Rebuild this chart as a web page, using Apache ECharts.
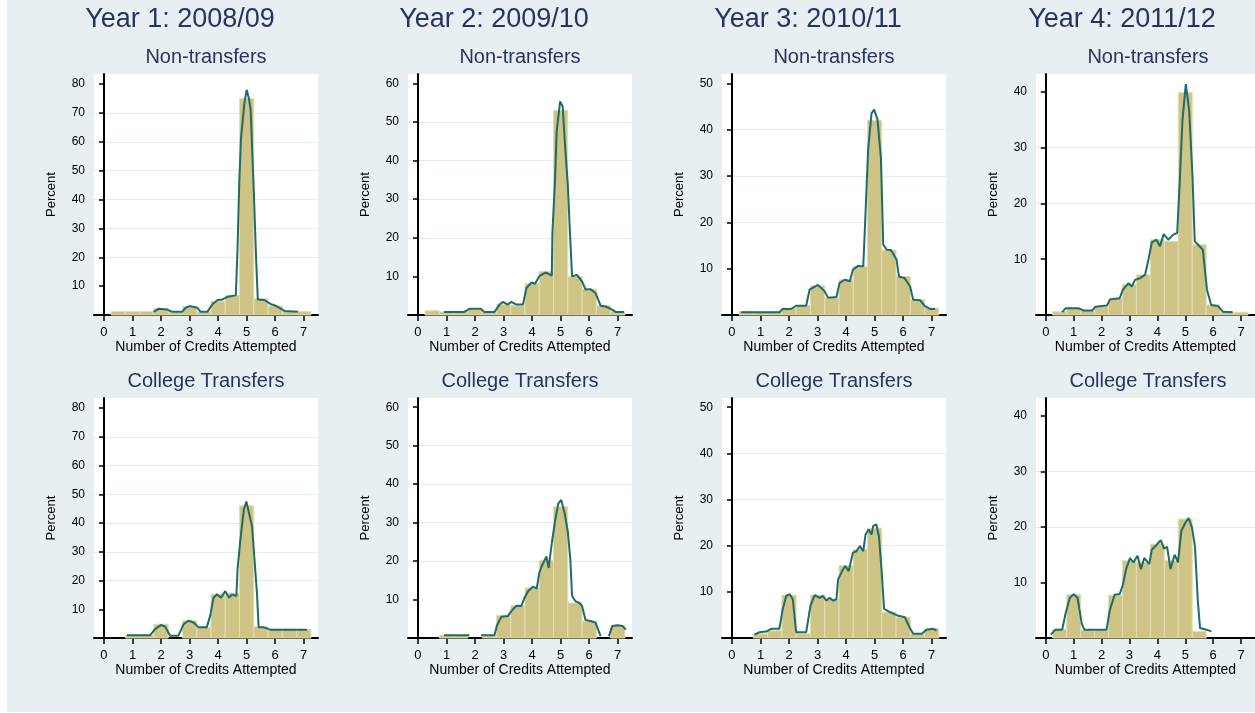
<!DOCTYPE html>
<html>
<head>
<meta charset="utf-8">
<script src="https://cdn.jsdelivr.net/npm/echarts@6/dist/echarts.min.js"></script>
<style>
  html, body { margin: 0; padding: 0; background: #fff; }
  #chart { width: 1255px; height: 713px; }
</style>
</head>
<body>
<div id="chart"></div>
<script>
// bin centres (width 0.5) shared by all panels
var bins = [0.5, 1, 1.5, 2, 2.5, 3, 3.5, 4, 4.5, 5, 5.5, 6, 6.5, 7];
var xTicks = [0, 1, 2, 3, 4, 5, 6, 7];

var yearTitles = ['Year 1: 2008/09', 'Year 2: 2009/10', 'Year 3: 2010/11', 'Year 4: 2011/12'];
var groupTitles = ['Non-transfers', 'College Transfers'];

var yMaxByYear = [83.5, 62.4, 52, 43.2];
var yTicksY1 = [10, 20, 30, 40, 50, 60, 70, 80];
var yTicksY2 = [10, 20, 30, 40, 50, 60];
var yTicksY3 = [10, 20, 30, 40, 50];
var yTicksY4 = [10, 20, 30, 40];

// histogram heights (percent), non-transfers
var barsY1Non = [1.2, 1.2, 1.2, 2.2, 1.0, 2.8, 1.1, 4.8, 6.8, 75, 5.6, 3.1, 1.3, 1.2];
var barsY2Non = [1.1, 0.8, 0.9, 1.4, 0.8, 2.8, 2.4, 8.1, 11.3, 53, 10, 6.7, 2.4, 0.9];
var barsY3Non = [0.8, 0.6, 0.6, 1.5, 2.0, 6.3, 3.7, 7.6, 10.5, 42, 14, 8.3, 3.3, 1.5];
var barsY4Non = [0.6, 1.2, 0.8, 1.5, 3.0, 5.5, 7.2, 13.5, 13.2, 39.9, 12.6, 1.8, 0.5, 0.5];
// college transfers
var barsY1Col = [0, 1.0, 1.0, 4.8, 0, 6.0, 3.7, 15.2, 15.5, 46, 3.9, 3.1, 3.1, 2.9];
var barsY2Col = [0, 0.7, 0.7, 0, 0.5, 5.9, 8.4, 13, 20.2, 34.1, 9.1, 4.4, 0, 3.3];
var barsY3Col = [0, 0.9, 1.6, 9.3, 0.9, 9.3, 8.4, 15.7, 19.2, 23.8, 5.6, 4.5, 0.9, 2.0];
var barsY4Col = [1.6, 7.8, 1.4, 1.4, 7.7, 13.9, 13.6, 16.9, 13.9, 21.4, 1.2, 0, 0, 0];

// fine-grained frequency line over each histogram
var curveY1Non = [[1.74,1.1],[1.92,2.2],[2.2,1.9],[2.4,1.1],[2.74,1.1],[2.86,2.5],[3.0,3.1],[3.27,2.5],[3.39,1.1],[3.62,1.1],[3.8,3.7],[3.98,5.2],[4.15,5.4],[4.33,6.3],[4.62,6.8],[4.68,23],[4.74,45.7],[4.8,61],[4.92,73.3],[5.0,78],[5.08,75],[5.14,71],[5.25,42.8],[5.33,19.8],[5.39,5.4],[5.62,5.2],[5.86,3.7],[6.04,3.1],[6.33,1.4],[6.8,1.1]];
var curveY2Non = [[0.91,0.8],[1.62,0.8],[1.8,1.6],[2.2,1.6],[2.33,0.8],[2.68,0.8],[2.86,2.7],[2.98,3.4],[3.15,2.7],[3.27,3.4],[3.45,2.7],[3.68,2.7],[3.8,7],[3.98,8.4],[4.1,8.1],[4.27,10.2],[4.47,11],[4.69,10.2],[4.71,21.2],[4.8,34.6],[4.86,47.5],[4.98,55.3],[5.07,54],[5.16,43.2],[5.25,33.7],[5.34,19],[5.4,10],[5.57,10.4],[5.75,8.7],[5.87,6.6],[6.04,6.7],[6.22,5.7],[6.4,2.4],[6.58,2.2],[6.75,1.6],[6.93,0.8],[7.22,0.8]];
var curveY3Non = [[0.32,0.6],[1.66,0.6],[1.78,1.3],[2.07,1.3],[2.25,2],[2.6,2],[2.72,5.5],[3.01,6.5],[3.25,5.1],[3.37,3.7],[3.66,3.9],[3.77,6.9],[3.95,7.6],[4.13,7.3],[4.24,9.8],[4.42,10.6],[4.6,10.5],[4.68,22],[4.77,35.6],[4.89,43.5],[4.98,44.3],[5.1,42.2],[5.22,33.8],[5.3,15.2],[5.42,14.1],[5.57,14],[5.77,11.9],[5.85,8.3],[6.04,8],[6.24,6.2],[6.35,3.3],[6.59,3.2],[6.76,1.9],[6.94,1.3],[7.12,1.3]];
var curveY4Non = [[0.59,0.5],[0.71,1.2],[1.19,1.2],[1.36,0.8],[1.66,0.8],[1.78,1.5],[2.19,1.7],[2.31,2.8],[2.65,3],[2.76,4.5],[2.97,5.7],[3.08,5.1],[3.2,6.3],[3.38,6.6],[3.56,7.2],[3.68,9.9],[3.8,13],[3.97,13.5],[4.09,12.3],[4.23,14.5],[4.39,13.5],[4.57,14.4],[4.71,14.7],[4.8,23.6],[4.9,34.9],[5.02,41.4],[5.14,36.7],[5.26,24.8],[5.34,13.2],[5.46,12.6],[5.63,11.7],[5.78,4.5],[5.93,1.8],[6.17,1.6],[6.35,0.6],[6.7,0.5]];
var curveY1Col = [[0.8,1],[1.62,1],[1.79,3.1],[1.99,4.5],[2.14,4],[2.32,0.8],[2.61,0.8],[2.79,4.8],[2.96,6],[3.14,5.4],[3.31,3.7],[3.6,3.7],[3.72,7.7],[3.84,14],[3.96,15.2],[4.1,14],[4.25,16.3],[4.39,14],[4.48,15.2],[4.64,14.6],[4.68,23.8],[4.78,34.2],[4.9,44.6],[4.99,47.5],[5.07,44],[5.19,38.8],[5.27,27.9],[5.36,15.8],[5.42,3.7],[5.6,3.7],[5.83,2.9],[6.07,2.9],[6.3,2.9],[6.65,2.9],[7.12,2.9]];
var curveY2Col = [[0.91,0.7],[1.8,0.7],null,[2.21,0.7],[2.68,0.7],[2.77,3.3],[2.92,5.5],[3.15,5.7],[3.27,7],[3.45,8.4],[3.62,8.3],[3.72,10.2],[3.86,12.2],[4.04,13.4],[4.16,12.8],[4.25,16.9],[4.33,18.6],[4.5,21.2],[4.58,18.2],[4.69,24.7],[4.81,30.7],[4.92,35],[5.02,35.9],[5.14,32.4],[5.25,27.7],[5.34,20.3],[5.4,10.9],[5.51,9.6],[5.66,9.1],[5.75,8.3],[5.87,4.7],[6.04,4.4],[6.22,4],[6.4,0.5],null,[6.69,0.5],[6.81,3.1],[6.99,3.3],[7.17,3.1],[7.28,2.2]];
var curveY3Col = [[0.79,0.75],[0.96,1.25],[1.2,1.4],[1.37,2],[1.66,2],[1.78,6.3],[1.9,9.1],[2.02,9.5],[2.13,8.4],[2.25,1.25],[2.6,1.25],[2.75,7],[2.9,9.3],[3.07,8.7],[3.19,9.1],[3.31,8.1],[3.42,8.7],[3.54,8.1],[3.66,8.4],[3.72,12.7],[3.86,14.5],[3.97,15.6],[4.09,14.5],[4.24,18.5],[4.36,18.8],[4.48,19.9],[4.6,18.8],[4.68,22.4],[4.79,23.5],[4.89,22.4],[4.95,24.3],[5.06,24.6],[5.15,22],[5.24,14.9],[5.33,6.3],[5.5,5.7],[5.65,5.3],[5.83,4.8],[6.06,4.5],[6.24,2.1],[6.35,0.9],[6.65,0.9],[6.82,1.8],[7.06,2],[7.17,1.6]];
var curveY4Col = [[0.18,0.6],[0.35,1.5],[0.59,1.5],[0.71,4.4],[0.86,7.2],[1.0,7.9],[1.14,7.2],[1.29,2.6],[1.38,1.5],[2.18,1.5],[2.29,4.9],[2.47,7.8],[2.65,7.9],[2.76,9.5],[2.88,12.4],[3.02,14.4],[3.14,13.6],[3.29,14.8],[3.41,12.4],[3.53,14.4],[3.71,13.3],[3.8,15.9],[3.96,16.7],[4.12,17.6],[4.24,16.1],[4.35,16.4],[4.47,12.4],[4.62,15],[4.74,13.6],[4.86,19.3],[5.0,20.7],[5.12,21.6],[5.24,19.9],[5.35,16.4],[5.45,6.7],[5.53,1.8],[5.76,1.5],[5.94,1.2]];

var barSets = [barsY1Non, barsY2Non, barsY3Non, barsY4Non, barsY1Col, barsY2Col, barsY3Col, barsY4Col];
var curveSets = [curveY1Non, curveY2Non, curveY3Non, curveY4Non, curveY1Col, curveY2Col, curveY3Col, curveY4Col];
var yTickSets = [yTicksY1, yTicksY2, yTicksY3, yTicksY4];

var chart = echarts.init(document.getElementById('chart'), null, { renderer: 'canvas' });

var panelLeft = [94, 408, 722, 1036];
var plotWidth = 224;
var rowTop = [74, 398];
var rowHeight = [241, 240];
var titleColor = '#27345f';
var barFill = '#cdc486';
var barEdge = '#e3deb1';
var lineColor = '#1f6b68';
var font = 'Liberation Sans, Arial, sans-serif';

var grids = [], xAxes = [], yAxes = [], series = [], titles = [];

for (var c = 0; c < 4; c++) {
    titles.push({
        text: yearTitles[c], left: panelLeft[c] + plotWidth / 2 - 26, top: 6, textAlign: 'center', padding: 0,
        textStyle: { fontSize: 27, fontWeight: 'normal', color: titleColor, fontFamily: font }
    });
}

for (var r = 0; r < 2; r++) {
    for (var c = 0; c < 4; c++) {
        var k = r * 4 + c;
        titles.push({
            text: groupTitles[r], left: panelLeft[c] + plotWidth / 2, top: r == 0 ? 47 : 371,
            textAlign: 'center', padding: 0,
            textStyle: { fontSize: 20, fontWeight: 'normal', color: titleColor, fontFamily: font }
        });
        grids.push({
            left: panelLeft[c], top: rowTop[r], width: plotWidth, height: rowHeight[r],
            show: true, backgroundColor: '#fff', borderWidth: 0
        });
        xAxes.push({
            gridIndex: k, type: 'value', min: -0.35, max: 7.5,
            axisLine: { show: true, onZero: false, lineStyle: { color: '#000', width: 2 } },
            axisTick: { show: true, customValues: xTicks, length: 6, lineStyle: { color: '#000', width: 1.5 } },
            axisLabel: { customValues: xTicks, fontSize: 13, color: '#000', margin: 11, fontFamily: font },
            splitLine: { show: false },
            name: 'Number of Credits Attempted', nameLocation: 'middle', nameGap: 25,
            nameTextStyle: { fontSize: 14, color: '#000', fontFamily: font }
        });
        yAxes.push({
            gridIndex: k, type: 'value', min: 0, max: yMaxByYear[c], interval: 10,
            axisLine: { show: true, lineStyle: { color: '#000', width: 2 } },
            axisTick: { show: true, customValues: yTickSets[c], length: 5, lineStyle: { color: '#000', width: 1.5 } },
            axisLabel: { customValues: yTickSets[c], fontSize: 12, color: '#000', margin: 9, fontFamily: font },
            splitLine: { show: true, showMinLine: false, showMaxLine: false, lineStyle: { color: '#e3ecf1', width: 1 } },
            name: 'Percent', nameLocation: 'middle', nameGap: 36,
            nameTextStyle: { fontSize: 13, color: '#000', fontFamily: font }
        });

        var barData = bins.map(function (b, i) { return [b, barSets[k][i]]; });
        series.push({
            type: 'custom', xAxisIndex: k, yAxisIndex: k, data: barData, z: 2,
            renderItem: function (params, api) {
                var x = api.value(0), y = api.value(1);
                if (!y) return null;
                var p0 = api.coord([x - 0.25, y]);
                var p1 = api.coord([x + 0.25, 0]);
                return {
                    type: 'rect',
                    shape: { x: p0[0], y: p0[1], width: p1[0] - p0[0], height: p1[1] - p0[1] },
                    style: { fill: barFill, stroke: barEdge, lineWidth: 1 }
                };
            }
        });
        series.push({
            type: 'line', xAxisIndex: k, yAxisIndex: k, data: curveSets[k], z: 3,
            showSymbol: false, connectNulls: false, silent: true,
            lineStyle: { color: lineColor, width: 2 }
        });
    }
}

var option = {
    animation: false,
    backgroundColor: '#fff',
    graphic: [{
        type: 'rect', left: 7, top: 0, z: -10,
        shape: { width: 1248, height: 712 },
        style: { fill: '#e8eff3' }
    }],
    title: titles,
    grid: grids,
    xAxis: xAxes,
    yAxis: yAxes,
    series: series
};

chart.setOption(option);

window.addEventListener('resize', function () {
    chart.resize();
});
</script>
</body>
</html>
